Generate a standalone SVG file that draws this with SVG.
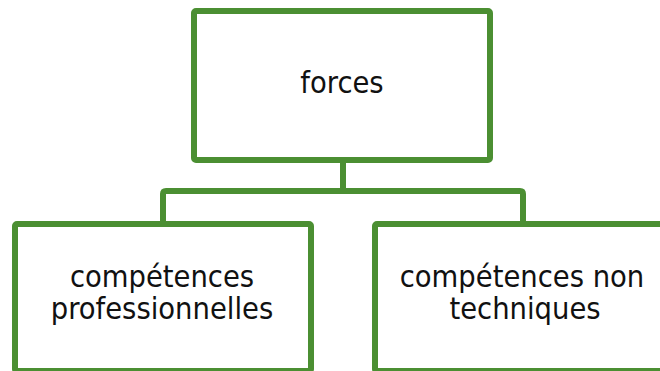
<svg xmlns="http://www.w3.org/2000/svg" width="660" height="371" viewBox="0 0 660 371">
  <style>
    .box { fill: #ffffff; stroke: #4b8f32; stroke-width: 6; }
    .link { fill: none; stroke: #4b8f32; stroke-width: 6; stroke-linejoin: round; }
    .label { font-family: "DejaVu Sans Condensed", "DejaVu Sans", sans-serif; font-stretch: condensed; font-size: 30.5px; fill: #111111; text-anchor: middle; }
  </style>
  <rect width="660" height="371" fill="#ffffff"/>
  <g id="connectors">
    <path class="link" d="M343 160 V191"/>
    <path class="link" d="M163 224 V194 Q163 191 166 191 H520 Q523 191 523 194 V224"/>
  </g>
  <g id="node-forces">
    <rect class="box" x="194" y="11" width="296" height="149" rx="2"/>
    <text class="label" x="342" y="93">forces</text>
  </g>
  <g id="node-professionnelles">
    <rect class="box" x="15" y="224" width="296" height="147" rx="2"/>
    <text class="label"><tspan x="162" y="287">compétences</tspan><tspan x="162" y="319">professionnelles</tspan></text>
  </g>
  <g id="node-non-techniques">
    <rect class="box" x="375" y="224" width="296" height="147" rx="2"/>
    <text class="label"><tspan x="522" y="287">compétences non</tspan><tspan x="525" y="319">techniques</tspan></text>
  </g>
</svg>
